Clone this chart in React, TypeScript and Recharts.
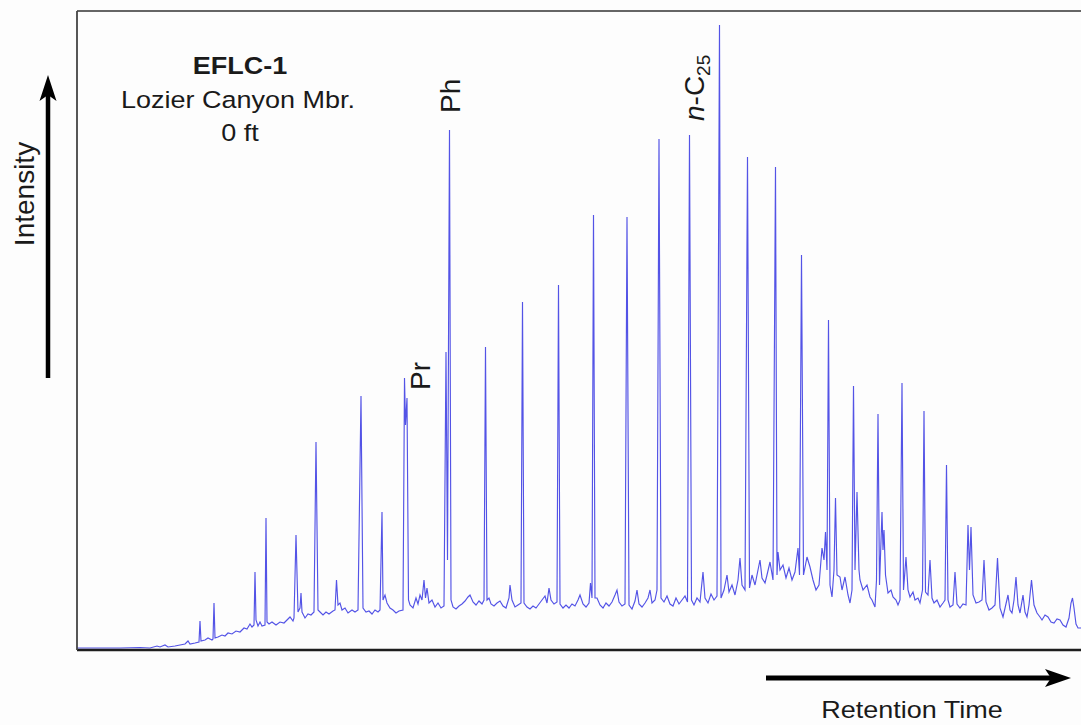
import { Line, LineChart, ReferenceDot, ReferenceLine, XAxis, YAxis } from "recharts";

// x = detector scan number, y = FID response (counts)
const minuteTicks = [
  21, 52, 84, 115, 147, 179, 210, 243, 275, 306, 341, 373, 404, 436, 467, 499,
  531, 563, 595, 627, 660, 691, 723, 755, 787, 819, 850, 883, 915, 947, 979,
];

// [scan, counts]
const earlyTrace = [
  [0, 2], [18, 2], [43, 2], [63, 2.5], [73, 2], [80, 4], [83, 3], [88, 5], [91, 3],
  [98, 4], [103, 5], [108, 6], [111, 9], [113, 6], [118, 7], [122, 8], [123, 29],
  [124, 9], [128, 10], [131, 12], [135, 10], [136, 11], [137, 47], [138, 12],
  [141, 13], [145, 15], [148, 14], [151, 17], [155, 16], [159, 19], [163, 18],
  [167, 22], [170, 21], [173, 26], [175, 23], [177, 25], [178, 78], [179, 30],
  [181, 24], [183, 28], [185, 24], [188, 25], [189, 132], [190, 28], [192, 26],
  [195, 28], [199, 25], [203, 28], [207, 27], [210, 30], [213, 33], [216, 29],
  [217, 32], [219, 115], [221, 38], [223, 42], [224, 57], [225, 38], [228, 32],
  [231, 36], [234, 35], [237, 38], [239, 208], [241, 40], [243, 38], [246, 35],
  [249, 38], [252, 36], [256, 39], [258, 40], [259.5, 70], [261, 45], [263, 47],
  [265, 40], [268, 42], [271, 37], [275, 40], [278, 38], [281, 40], [284, 254],
  [286, 42], [289, 38], [292, 39], [295, 36], [298, 40],
];

const midTrace = [
  [301, 38], [303, 40], [305, 138], [306, 50], [308, 55], [310, 47], [313, 42],
  [316, 40], [319, 37], [322, 39], [326, 40], [327.5, 272], [328.5, 225], [330, 252],
  [331.5, 50], [333, 45], [336, 42], [339, 52], [341, 46], [343, 55], [345, 50],
  [347, 70], [348.5, 52], [350, 62], [352, 47], [355, 50], [358, 43], [361, 47],
  [364, 42], [367, 44], [369, 298], [370.5, 90], [372.5, 520], [374, 50], [376, 43],
  [379, 41], [382, 44], [385, 46], [388, 49], [391, 53], [393, 55], [396, 48],
  [399, 45], [402, 49], [405, 46], [407, 50], [408.5, 303], [410, 50], [412, 52],
  [414, 46], [417, 44], [420, 47], [423, 49], [426, 44], [429, 42], [432, 52],
  [433, 65], [435, 50], [438, 43], [441, 45], [444, 47], [445.5, 348], [447, 47],
  [450, 43], [453, 41], [456, 44], [459, 42], [462, 46], [465, 50], [468, 54],
  [470, 47], [472, 62], [474, 50], [477, 46], [480, 48], [481.5, 365], [483, 46],
  [486, 42], [489, 45], [492, 42], [495, 46], [498, 44], [501, 50], [503, 55],
  [506, 46], [509, 43], [512, 47], [513.5, 67], [515, 52], [516.5, 435], [518, 52],
  [520, 52], [523, 45], [526, 42], [529, 47], [532, 44], [535, 48], [538, 55],
  [540, 60], [542, 48], [545, 44], [548, 46], [550, 433], [552, 45], [555, 41],
  [558, 49], [560, 60], [562, 46], [565, 43], [568, 47], [571, 52], [573, 60],
  [575, 47], [578, 50], [580, 60], [582, 511], [584, 52], [587, 48], [590, 54],
  [593, 46], [596, 44], [599, 52], [602, 46], [605, 50], [608, 54], [610.5, 48],
  [612.5, 515], [614.5, 50], [617, 45], [620, 52], [623, 48], [626, 78], [628, 52],
  [631, 47], [634, 56], [637, 50], [640, 54], [642.5, 625], [644, 52], [647, 60],
];

const lateTrace = [
  [650, 75], [652, 58], [655, 65], [658, 55], [661, 70], [663, 92], [665, 65],
  [668, 60], [670.5, 493], [672.5, 62], [675, 75], [678, 65], [681, 80], [683, 90],
  [685, 72], [688, 67], [690, 75], [693, 88], [696, 70], [698.5, 483], [700, 75],
  [701, 98], [703, 80], [706, 85], [709, 72], [712, 82], [715, 70], [718, 78],
  [721, 102], [722.5, 75], [724.5, 395], [726.5, 75], [730, 93], [733, 83],
  [736, 70], [739, 60], [742, 65], [745, 102], [747, 90], [748.5, 118], [750, 80],
  [751.5, 330], [753, 65], [755, 53], [757, 80], [758.5, 152], [760, 75], [763, 73],
  [765, 60], [768, 73], [771, 55], [773, 47], [775, 60], [776.5, 264], [778, 80],
  [780, 158], [782, 80], [783, 70], [786, 60], [790, 65], [793, 53], [795, 50],
  [798, 43], [799.5, 70], [801, 236], [802.5, 65], [805, 138], [806, 100], [807, 120],
  [808.5, 75], [811, 57], [814, 60], [816, 53], [819, 50], [821, 45], [823, 50],
  [825, 267], [826.5, 60], [829, 93], [831, 60], [833, 53], [836, 58], [838, 50],
  [841, 52], [843, 47], [845.5, 60], [847, 239], [848.5, 58], [851, 55], [853, 90],
  [855, 52], [857, 47], [860, 50], [863, 43], [866, 47], [868, 50], [869.5, 185],
  [871, 50], [873, 43], [876, 45], [878, 78], [880, 46], [883, 42], [886, 46],
  [889, 45], [891, 125], [892.5, 80], [894, 123], [896, 55], [899, 47], [902, 48],
  [905, 50], [907, 90], [909, 48], [912, 40], [915, 42], [918, 45], [920.5, 92],
  [923, 42], [926, 33], [931, 55], [933, 40], [935, 37], [937, 50], [939, 73],
  [941, 45], [943, 37], [946, 55], [948, 38], [950, 33], [952, 45], [954.5, 70],
  [957, 45], [960, 37], [963, 33], [965, 30], [968, 35], [971, 33], [974, 28],
  [977, 27], [980, 31], [983, 30], [986, 25], [989, 23], [992, 32], [994, 47],
  [995.5, 52], [997, 42], [999, 26], [1001, 22], [1004, 22], [1008, 24],
];

// labelled compounds (pristane, phytane, n-C25)
const peakTags = [
  { scan: 330, prefix: "", text: "Pr", sub: "" },
  { scan: 372.5, prefix: "", text: "Ph", sub: "" },
  { scan: 612.5, prefix: "n", text: "-C", sub: "25" },
];

const trace = [...earlyTrace, ...midTrace, ...lateTrace].map(([scan, counts]) => ({
  scan,
  counts,
}));

const FONT = '"Liberation Sans", Arial, Helvetica, sans-serif';

// offset of each rotated tag from its peak apex
const tagOffset: Record<string, [number, number]> = {
  Pr: [23, -8],
  Ph: [10, -17],
  "-C": [14.5, -14],
};

function PeakTag(props: any) {
  const { viewBox, tag } = props;
  if (!viewBox) return null;
  const [dx, dy] = tagOffset[tag.text];
  const x = viewBox.x + dx;
  const y = viewBox.y + dy;
  return (
    <text
      x={x}
      y={y}
      transform={`rotate(-90 ${x} ${y})`}
      fontSize={28}
      fontFamily={FONT}
      fill="#1a1a1a"
    >
      {tag.prefix && <tspan fontStyle="italic">{tag.prefix}</tspan>}
      {tag.text}
      {tag.sub && (
        <tspan fontSize={19} dy={6}>
          {tag.sub}
        </tspan>
      )}
    </text>
  );
}

function Arrows() {
  return (
    <svg
      width={1081}
      height={725}
      style={{ position: "absolute", left: 0, top: 0, pointerEvents: "none" }}
    >
      <line x1={48} y1={378} x2={48} y2={92} stroke="#000" strokeWidth={4.5} />
      <polygon points="48,75 39.5,101 48,95 56.5,101" fill="#000" />
      <line x1={766} y1={678} x2={1052} y2={678} stroke="#000" strokeWidth={5} />
      <polygon points="1071,678 1045,669 1051,678 1045,687" fill="#000" />

      <text
        x={34}
        y={194}
        transform="rotate(-90 34 194)"
        textAnchor="middle"
        fontSize={28}
        fontFamily={FONT}
        fill="#1a1a1a"
      >
        Intensity
      </text>

      <g fontFamily={FONT} fontSize={27} fill="#1a1a1a" textAnchor="middle">
        <text transform="translate(240 74) scale(1 0.87)" fontWeight="bold">
          EFLC-1
        </text>
        <text transform="translate(238 108) scale(1 0.87)">Lozier Canyon Mbr.</text>
        <text transform="translate(240 141) scale(1 0.87)">0 ft</text>
        <text transform="translate(912 718) scale(1 0.87)">Retention Time</text>
      </g>
    </svg>
  );
}

export default function App() {
  return (
    <div
      style={{
        position: "fixed",
        left: 0,
        top: 0,
        width: 1081,
        height: 725,
        overflow: "hidden",
        background: "#fdfdfd",
      }}
    >
      <LineChart
        width={1095}
        height={725}
        data={trace}
        margin={{ top: 11, right: 10, bottom: 74, left: 76 }}
      >
        <XAxis
          dataKey="scan"
          type="number"
          domain={[0, 1008]}
          ticks={minuteTicks}
          interval={0}
          allowDataOverflow
          height={1}
          tick={false}
          tickSize={-4}
          tickLine={{ stroke: "#555", strokeWidth: 1 }}
          axisLine={{ stroke: "#1e1e1e", strokeWidth: 2.4 }}
        />
        <YAxis
          type="number"
          domain={[0, 639]}
          allowDataOverflow
          width={1}
          tick={false}
          tickLine={false}
          axisLine={{ stroke: "#444", strokeWidth: 1.8 }}
        />
        <ReferenceLine y={639} stroke="#666" strokeWidth={2} />
        <Line
          type="linear"
          dataKey="counts"
          stroke="#5353e6"
          strokeWidth={1.15}
          dot={false}
          isAnimationActive={false}
        />
        {peakTags.map((tag) => {
          const apex = trace.find((p) => p.scan === tag.scan);
          return (
            <ReferenceDot
              key={tag.text}
              x={tag.scan}
              y={apex ? apex.counts : 0}
              r={0}
              fill="none"
              stroke="none"
              label={<PeakTag tag={tag} />}
            />
          );
        })}
      </LineChart>
      <Arrows />
    </div>
  );
}
